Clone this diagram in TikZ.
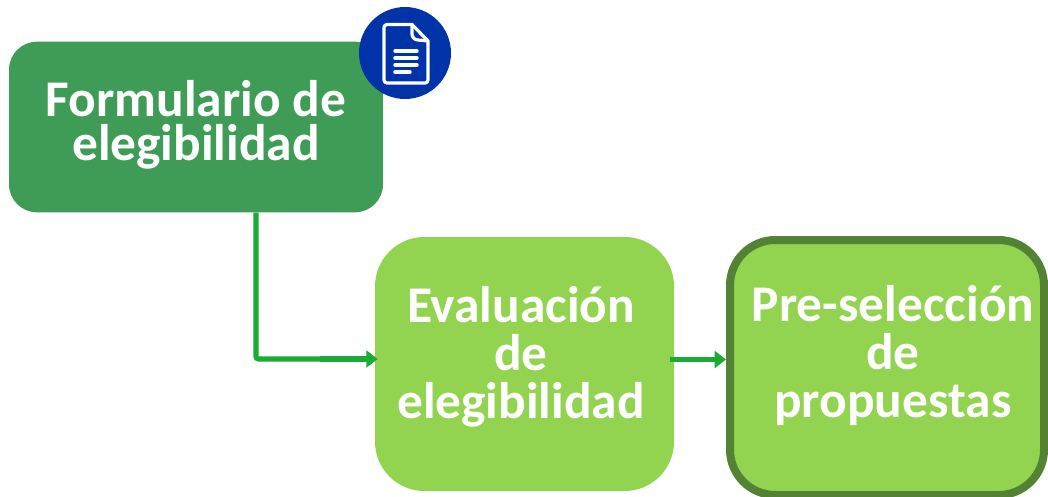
\documentclass[tikz,border=0pt]{standalone}
\usepackage{fontspec}
\setmainfont{Carlito}
\usetikzlibrary{calc,arrows.meta}
\definecolor{darkbox}{HTML}{3F9C57}
\definecolor{lightbox}{HTML}{92D350}
\definecolor{edgegreen}{HTML}{548235}
\definecolor{linkgreen}{HTML}{1AAB35}
\definecolor{badge}{HTML}{0033A8}
\tikzset{
  boxbase/.style={inner sep=0pt,draw=none,align=center},
  txt/.style={inner sep=0pt,align=center,text=white,font=\fontsize{38.6pt}{36pt}\selectfont\bfseries},
  link/.style={draw=linkgreen,line width=3.9pt,-{Triangle[length=8.5pt,width=12.5pt]},rounded corners=2pt},
  iconline/.style={draw=white,line width=2.6pt,line cap=round}
}
\begin{document}
\begin{tikzpicture}[x=0.75pt,y=-0.75pt]
\useasboundingbox (0,0) rectangle (1048,496);
\node[boxbase,fill=darkbox,rounded corners=21pt,minimum width=280.5pt,minimum height=128pt] (a) at (196,127) {};
\node[boxbase,fill=lightbox,rounded corners=37pt,minimum width=224.25pt,minimum height=190.5pt] (b) at (524.5,364) {};
\begin{scope}
\clip (0,0) rectangle (1048,496);
\node[boxbase,draw=edgegreen,line width=6pt,fill=lightbox,rounded corners=34pt,minimum width=235.5pt,minimum height=191.25pt] (c) at (887,367.5) {};
\end{scope}
\node[txt,font=\fontsize{38.6pt}{33pt}\selectfont\bfseries] (ta) at (196,125) {Formulario de\\elegibilidad};
\node[txt] (tb) at (521,357) {Evaluación\\de\\elegibilidad};
\node[txt] (tc) at (893,355) {Pre-selección\\de\\propuestas};
\coordinate (k1) at ($(a.south)+(60,0)$);
\coordinate (k2) at ($(b.west)+(3,-5)$);
\coordinate (k3) at ($(b.east)+(-4,-4.5)$);
\coordinate (k4) at ($(c.west)+(0,-8)$);
\coordinate (k5) at ($(k2)+(-58,0)$);
\draw[link] (k1) |- (k2);
\draw[draw=linkgreen,line width=4.6pt] (k5) -- ($(k2)+(-10,0)$);
\draw[link] (k3) -- (k4);
\node[circle,fill=badge,minimum size=69pt,inner sep=0pt] (d) at (405,53) {};
\draw[draw=white,line width=2.4pt,line join=round] (387,24.5) -- (412,24.5) -- (428,41) -- (428,80) arc[start angle=0,end angle=90,radius=3] -- (387,83) arc[start angle=90,end angle=180,radius=3] -- (384,27.5) arc[start angle=180,end angle=270,radius=3] -- cycle;
\draw[draw=white,line width=2.4pt,line join=round] (412,24.5) -- (412,34) arc[start angle=180,end angle=90,radius=6] -- (428,41);
\draw[iconline] (395,51) -- (417,51);
\draw[iconline] (395,58) -- (417,58);
\draw[iconline] (395,65) -- (417,65);
\draw[iconline] (395,72) -- (410,72);
\end{tikzpicture}
\end{document}
